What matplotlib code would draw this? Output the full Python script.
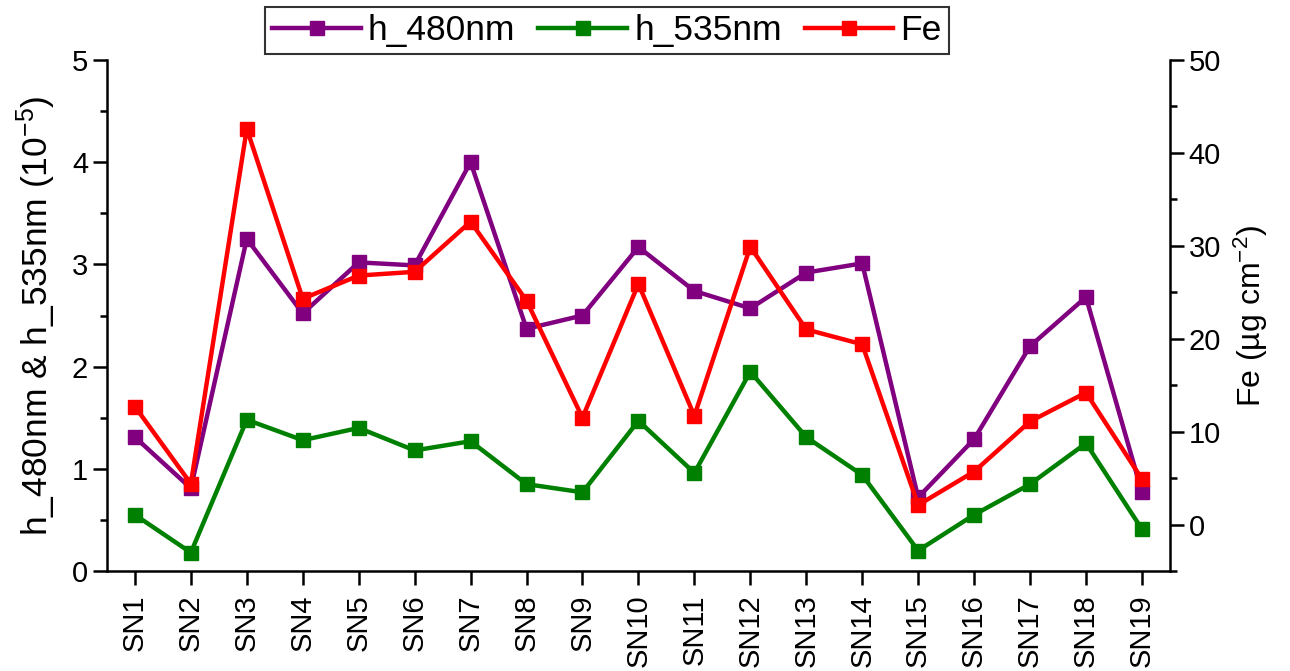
import matplotlib
matplotlib.use("Agg")
import matplotlib.pyplot as plt
from matplotlib.ticker import MultipleLocator

plt.rcParams['font.family'] = ['Liberation Sans', 'DejaVu Sans']
plt.rcParams['mathtext.fontset'] = 'custom'
plt.rcParams['mathtext.rm'] = 'Liberation Sans'
plt.rcParams['mathtext.default'] = 'regular'

# du lieu doc tu hinh
samples = ['SN%d' % i for i in range(1, 20)]
h_480 = [1.31, 0.81, 3.25, 2.52, 3.02, 2.99, 4.00, 2.37, 2.50, 3.17,
         2.74, 2.57, 2.92, 3.01, 0.72, 1.29, 2.20, 2.68, 0.77]
h_535 = [0.55, 0.18, 1.48, 1.28, 1.40, 1.18, 1.27, 0.85, 0.77, 1.47,
         0.96, 1.95, 1.31, 0.94, 0.20, 0.55, 0.85, 1.25, 0.41]
fe = [12.7, 4.4, 42.6, 24.3, 26.8, 27.2, 32.6, 24.1, 11.5, 25.9,
      11.7, 29.9, 21.0, 19.4, 2.1, 5.7, 11.1, 14.2, 4.9]

x = list(range(1, len(samples) + 1))

fig = plt.figure(figsize=(12.9, 6.71), dpi=100)
ax = fig.add_axes([0.0829, 0.1490, 0.8240, 0.7616])
ax2 = ax.twinx()

lw = 3.2
ms = 10.5
l1, = ax.plot(x, h_480, color='#800080', lw=lw, marker='s', ms=ms, label='h_480nm')
l2, = ax.plot(x, h_535, color='#008000', lw=lw, marker='s', ms=ms, label='h_535nm')
l3, = ax2.plot(x, fe, color='#ff0000', lw=lw, marker='s', ms=ms, label='Fe')

ax.set_xlim(0.5, 19.5)
ax.set_ylim(0, 5)
ax2.set_ylim(-5, 50)

ax.set_xticks(x)
ax.set_xticklabels(samples, rotation=90)
ax.yaxis.set_major_locator(MultipleLocator(1))
ax.yaxis.set_minor_locator(MultipleLocator(0.5))
ax2.set_yticks([0, 10, 20, 30, 40, 50])
ax2.yaxis.set_minor_locator(MultipleLocator(5))

for a in (ax, ax2):
    a.spines['top'].set_visible(False)
    for s in a.spines.values():
        s.set_linewidth(1.8)
    a.tick_params(which='major', direction='out', length=10, width=1.8, labelsize=21)
    a.tick_params(which='minor', direction='out', length=5, width=1.8)
ax2.spines['left'].set_visible(False)
ax2.spines['bottom'].set_visible(False)
ax.spines['right'].set_visible(False)
ax.tick_params(axis='x', pad=7)

ax.set_ylabel('h_480nm & h_535nm (10$^{-5}$)', fontsize=25.5, labelpad=10)
ax2.set_ylabel('Fe (µg cm$^{-2}$)', fontsize=23, labelpad=8)

leg = fig.legend(handles=[l1, l2, l3], loc='center', bbox_to_anchor=(0.4705, 0.954),
                 ncol=3, fontsize=25.5, frameon=True, fancybox=False,
                 handlelength=2.5, columnspacing=0.65, handletextpad=0.2,
                 borderpad=0.2, borderaxespad=0)
leg.get_frame().set_edgecolor('black')
leg.get_frame().set_linewidth(1.5)

fig.savefig('out.png', dpi=100)
